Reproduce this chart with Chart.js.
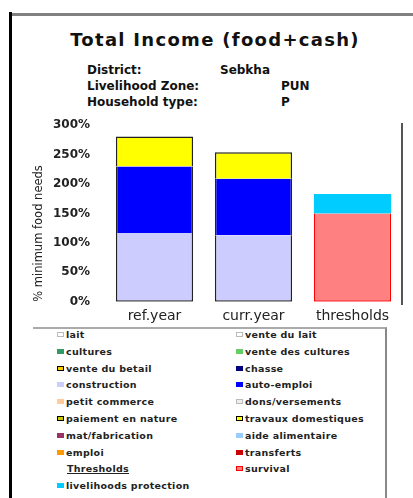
<!DOCTYPE html>
<html>
<head>
<meta charset="utf-8">
<script src="https://cdn.jsdelivr.net/npm/chart.js@4"></script>
<style>
body{margin:0;width:413px;height:498px;overflow:hidden;background:#fff;position:relative;font-family:"DejaVu Sans",sans-serif;color:#111;}
.abs{position:absolute;}
#frameLeft{left:9px;top:12px;width:3px;height:486px;background:#000;}
#frameTop{left:12px;top:13px;width:401px;height:3px;background:#808080;}
#title{left:0;top:29px;width:430px;text-align:center;font-weight:bold;font-size:18px;letter-spacing:1.3px;line-height:22px;}
.info{font-weight:bold;font-size:12px;line-height:16px;}
#chartBox{left:12px;top:103px;width:390px;height:221px;}
#rightLine{left:401px;top:123px;width:2px;height:182px;background:#555;}
#legendBox{left:33px;top:327px;width:352px;height:175px;border-top:2px solid #aaa;border-right:2px solid #888;}
.lg{position:absolute;font-weight:bold;font-size:9.5px;letter-spacing:0.3px;line-height:12px;white-space:nowrap;color:#222;}
.sq{display:inline-block;width:7px;height:5px;margin-right:2px;vertical-align:1px;box-sizing:border-box;}
</style>
</head>
<body>
<div id="frameLeft" class="abs"></div>
<div id="frameTop" class="abs"></div>
<div id="title" class="abs">Total Income (food+cash)</div>
<div class="abs info" style="left:87px;top:62px;">District:</div>
<div class="abs info" style="left:220px;top:62px;">Sebkha</div>
<div class="abs info" style="left:87px;top:78px;">Livelihood Zone:</div>
<div class="abs info" style="left:281px;top:78px;">PUN</div>
<div class="abs info" style="left:87px;top:94px;">Household type:</div>
<div class="abs info" style="left:281px;top:94px;">P</div>
<div id="chartBox" class="abs"><canvas id="incomeChart"></canvas></div>
<div id="rightLine" class="abs"></div>
<div id="legendBox" class="abs"></div>
<div id="legend"></div>
<script>
// valeurs (% des besoins alimentaires minimum)
const categories = ['ref.year', 'curr.year', 'thresholds'];
const yTicks = [0, 50, 100, 150, 200, 250, 300];
const construction = [117, 113, 0];
const autoEmploi = [113, 96, 0];
const travauxDomestiques = [51, 45, 0];
const survival = [0, 0, 150];
const livelihoodsProtection = [0, 0, 33];
const nothing = [0, 0, 0];

const leftNames = ['lait', 'cultures', 'vente du betail', 'construction', 'petit commerce', 'paiement en nature', 'mat/fabrication', 'emploi'];
const rightNames = ['vente du lait', 'vente des cultures', 'chasse', 'auto-emploi', 'dons/versements', 'travaux domestiques', 'aide alimentaire', 'transferts', 'survival'];

const colors = {
  'lait': '#ffffff', 'cultures': '#339966', 'vente du betail': '#ffcc00', 'construction': '#ccccff',
  'petit commerce': '#ffcc99', 'paiement en nature': '#cccc00', 'mat/fabrication': '#993366', 'emploi': '#ff9900',
  'vente du lait': '#ffffff', 'vente des cultures': '#66cc66', 'chasse': '#000080', 'auto-emploi': '#0000ff',
  'dons/versements': '#eeeeee', 'travaux domestiques': '#ffff00', 'aide alimentaire': '#99ccff', 'transferts': '#cc0000',
  'survival': '#ff8080', 'livelihoods protection': '#00ccff'
};
const edges = {'vente du betail': '#000', 'paiement en nature': '#000', 'travaux domestiques': '#000', 'survival': '#ff0000', 'lait': '#bbb', 'vente du lait': '#bbb', 'dons/versements': '#bbb'};

const side = 1.5;
const datasets = [
  {label: 'construction', data: construction, borderColor: '#222', borderWidth: {left: side, right: side, bottom: side, top: 0}},
  {label: 'auto-emploi', data: autoEmploi, borderColor: '#222', borderWidth: {left: side, right: side, bottom: 0, top: 0}},
  {label: 'travaux domestiques', data: travauxDomestiques, borderColor: '#222', borderWidth: {left: side, right: side, bottom: 0, top: side}},
  {label: 'survival', data: survival, borderColor: '#ff0000', borderWidth: {left: side, right: side, bottom: side, top: 0}},
  {label: 'livelihoods protection', data: livelihoodsProtection, borderColor: '#00ccff', borderWidth: 0}
];
leftNames.concat(rightNames).forEach(n => {
  if (!datasets.find(d => d.label === n)) datasets.push({label: n, data: nothing, borderColor: edges[n] || '#555', borderWidth: 0});
});
datasets.forEach(d => { d.backgroundColor = colors[d.label]; d.stack = 's'; d.borderSkipped = false; });

const chart = new Chart('incomeChart', {
  type: 'bar',
  data: {labels: categories, datasets: datasets},
  options: {
    responsive: true,
    maintainAspectRatio: false,
    animation: false,
    layout: {padding: {top: 2, right: 0, left: 0, bottom: 0}},
    datasets: {bar: {barPercentage: 0.78, categoryPercentage: 1}},
    plugins: {legend: {display: false}, tooltip: {enabled: false}},
    scales: {
      x: {
        stacked: true,
        grid: {display: false, drawTicks: false},
        border: {display: false},
        ticks: {padding: 6, color: '#222', font: {family: 'DejaVu Sans', size: 14}},
        afterFit: s => { s.height = 22; }
      },
      y: {
        stacked: true,
        min: 0, max: 300,
        grid: {display: false, drawTicks: false},
        border: {display: false},
        afterBuildTicks: s => { s.ticks = yTicks.map(v => ({value: v})); },
        ticks: {padding: 15, color: '#222', font: {family: 'DejaVu Sans', size: 12, weight: 'bold'}, callback: v => v + '%'},
        title: {display: true, text: '% minimum food needs', align: 'start', color: '#222', padding: {top: 20, bottom: 0}, font: {family: 'DejaVu Sans', size: 11.5}},
        afterFit: s => { s.width = 93; }
      }
    }
  }
});

// légende HTML construite depuis les datasets du graphique
const items = Chart.defaults.plugins.legend.labels.generateLabels(chart);
const legendEl = document.getElementById('legend');
const rowY = i => 329 + i * 16.8;
function addItem(name, x, row) {
  const it = items.find(t => t.text === name);
  const div = document.createElement('div');
  div.className = 'lg';
  div.style.left = x + 'px';
  div.style.top = rowY(row) + 'px';
  const sq = document.createElement('span');
  sq.className = 'sq';
  sq.style.background = it.fillStyle;
  sq.style.border = '1px solid ' + (edges[name] || it.fillStyle);
  div.appendChild(sq);
  div.appendChild(document.createTextNode(name));
  legendEl.appendChild(div);
}
leftNames.forEach((n, i) => addItem(n, 57, i));
rightNames.forEach((n, i) => addItem(n, 236, i));
const th = document.createElement('div');
th.className = 'lg';
th.style.left = '67px';
th.style.top = rowY(8) + 'px';
th.style.textDecoration = 'underline';
th.textContent = 'Thresholds';
legendEl.appendChild(th);
addItem('livelihoods protection', 57, 9);
</script>
</body>
</html>
